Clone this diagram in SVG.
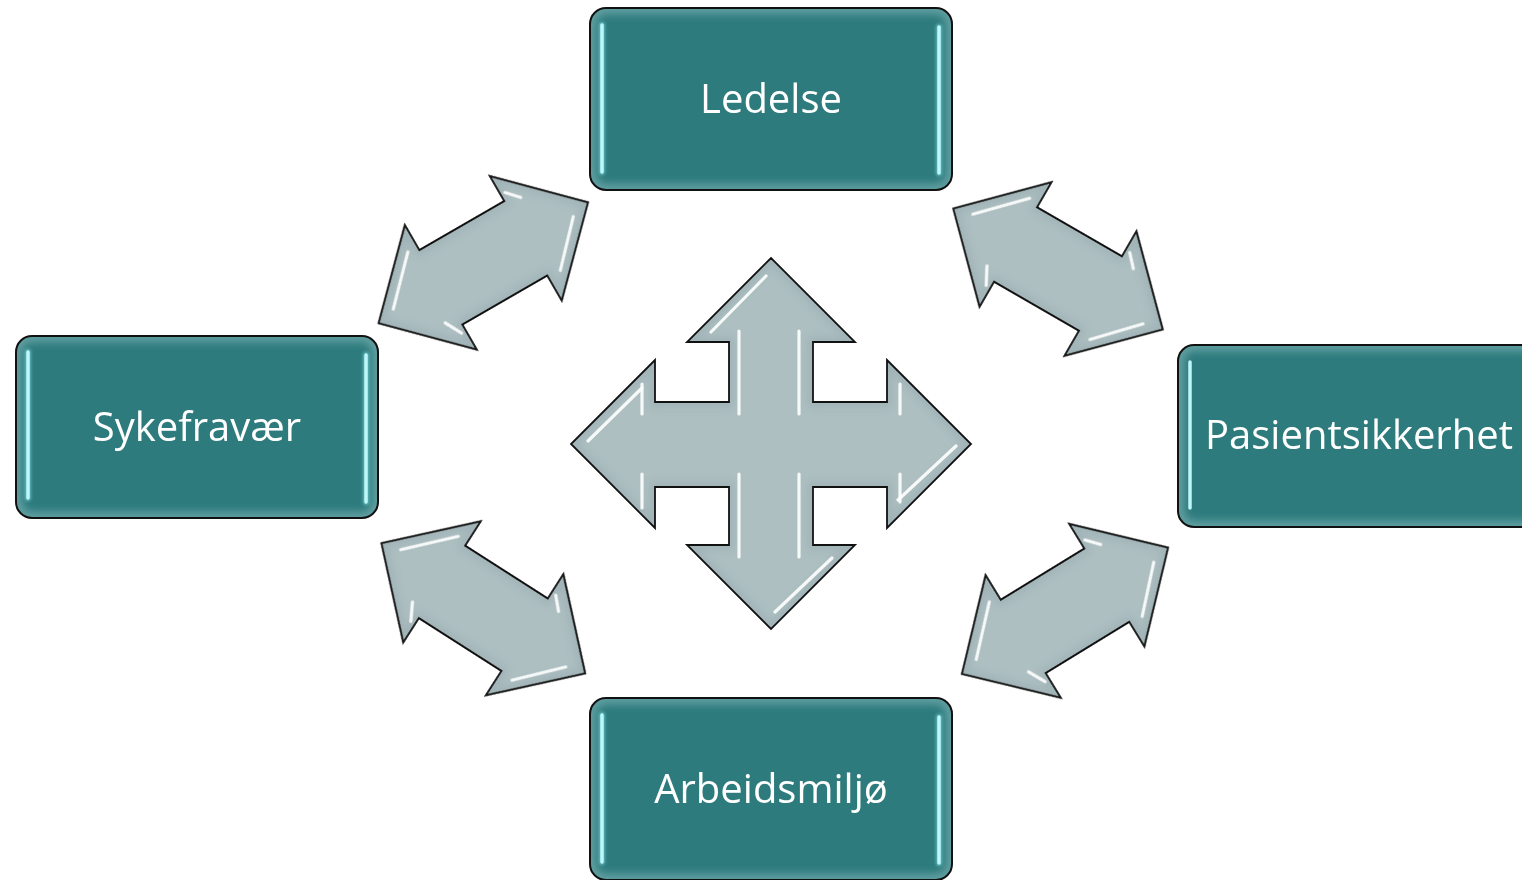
<svg xmlns="http://www.w3.org/2000/svg" xmlns:xlink="http://www.w3.org/1999/xlink" width="1522" height="880" viewBox="0 0 1522 880">
  <style>
    .box { fill: #2E7B7D; }
    .boxborder { fill: none; stroke: #111; stroke-width: 2; }
    .boxglow { fill: none; stroke: #8FC0C2; stroke-width: 12; opacity: 0.55; }
    .shine { stroke: #BDF7FA; stroke-width: 3.5; stroke-linecap: round; fill: none; }
    .shineglow { stroke: #7FE3EA; stroke-width: 6; stroke-linecap: round; fill: none; opacity: 0.6; }
    .label { font-family: "Open Sans", "Noto Sans", "DejaVu Sans", sans-serif; font-size: 40px; fill: #FFFFFF; text-anchor: middle; }
    .arrowfill { fill: #ADBFC1; }
    .arrowedge { fill: none; stroke: #111; stroke-width: 1.8; stroke-linejoin: miter; }
    .arrowshade { fill: none; stroke: #8499A0; stroke-width: 10; opacity: 0.3; }
    .streak { stroke: #FFFFFF; stroke-width: 3.2; stroke-linecap: round; fill: none; opacity: 0.9; }
  </style>
  <defs>
    <filter id="blur4" x="-20%" y="-20%" width="140%" height="140%">
      <feGaussianBlur stdDeviation="4"/>
    </filter>
    <filter id="blur1" x="-50%" y="-50%" width="200%" height="200%">
      <feGaussianBlur stdDeviation="0.7"/>
    </filter>
    <filter id="blur2" x="-50%" y="-50%" width="200%" height="200%">
      <feGaussianBlur stdDeviation="1.5"/>
    </filter>
    <clipPath id="boxclip" clipPathUnits="objectBoundingBox">
      <rect x="0" y="0" width="1" height="1" rx="0.044" ry="0.088"/>
    </clipPath>
    <path id="dblpath" d="M121,0 L49,-72 L49,-43 L-49,-43 L-49,-72 L-121,0 L-49,72 L-49,43 L49,43 L49,72 Z"/>
    <clipPath id="dblclip"><use xlink:href="#dblpath"/></clipPath>
    <g id="dbl">
      <use xlink:href="#dblpath" class="arrowfill"/>
      <use xlink:href="#dblpath" class="arrowshade" filter="url(#blur4)" clip-path="url(#dblclip)"/>
      <g filter="url(#blur1)">
        <path class="streak" d="M101,5 L63,45"/>
        <path class="streak" d="M54,-50 L65,-38"/>
        <path class="streak" d="M-101,-5 L-60,-47"/>
        <path class="streak" d="M-54,50 L-63,33"/>
      </g>
      <use xlink:href="#dblpath" class="arrowedge"/>
    </g>
    <path id="quadpath" d="M771,258 L855,342 L813,342 L813,402 L887,402 L887,360 L971,444 L887,528 L887,487 L813,487 L813,545 L855,545 L771,629 L687,545 L729,545 L729,487 L655,487 L655,528 L571,444 L655,360 L655,402 L729,402 L729,342 L687,342 Z"/>
    <clipPath id="quadclip"><use xlink:href="#quadpath"/></clipPath>
  </defs>

  <rect x="0" y="0" width="1522" height="880" fill="#FFFFFF"/>

  <!-- connectors: double arrows -->
  <g id="connectors">
    <use xlink:href="#dbl" transform="translate(483.3,262.8) rotate(-30)"/>
    <use xlink:href="#dbl" transform="translate(1058,269) rotate(30)"/>
    <use xlink:href="#dbl" transform="translate(483.3,608.3) rotate(32.6)"/>
    <use xlink:href="#dbl" transform="translate(1065,610.8) rotate(-31.5)"/>
  </g>

  <!-- center four-way arrow -->
  <g id="center-arrow">
    <use xlink:href="#quadpath" class="arrowfill"/>
    <use xlink:href="#quadpath" class="arrowshade" filter="url(#blur4)" clip-path="url(#quadclip)"/>
    <g filter="url(#blur1)">
      <path class="streak" d="M739,331 L739,414"/>
      <path class="streak" d="M799,331 L799,414"/>
      <path class="streak" d="M739,474 L739,557"/>
      <path class="streak" d="M799,474 L799,557"/>
      <path class="streak" d="M642,384 L642,414"/>
      <path class="streak" d="M642,474 L642,508"/>
      <path class="streak" d="M900,384 L900,414"/>
      <path class="streak" d="M900,474 L900,502"/>
      <path class="streak" d="M711,332 L766,276"/>
      <path class="streak" d="M588,441 L642,388"/>
      <path class="streak" d="M898,500 L956,446"/>
      <path class="streak" d="M775,612 L832,558"/>
    </g>
    <use xlink:href="#quadpath" class="arrowedge"/>
  </g>

  <!-- nodes -->
  <g id="ledelse">
    <rect class="box" x="590" y="8" width="362" height="182" rx="16"/>
    <rect class="boxglow" x="590" y="8" width="362" height="182" rx="16" filter="url(#blur4)" clip-path="url(#boxclip)"/>
    <path class="shineglow" d="M602,25 L602,172 M939,27 L939,173" filter="url(#blur2)"/>
    <path class="shine" d="M602,25 L602,172"/>
    <path class="shine" d="M939,27 L939,173"/>
    <rect class="boxborder" x="590" y="8" width="362" height="182" rx="16"/>
    <text class="label" x="771" y="113">Ledelse</text>
  </g>

  <g id="sykefravaer">
    <rect class="box" x="16" y="336" width="362" height="182" rx="16"/>
    <rect class="boxglow" x="16" y="336" width="362" height="182" rx="16" filter="url(#blur4)" clip-path="url(#boxclip)"/>
    <path class="shineglow" d="M28,352 L28,498 M366,355 L366,502" filter="url(#blur2)"/>
    <path class="shine" d="M28,352 L28,498"/>
    <path class="shine" d="M366,355 L366,502"/>
    <rect class="boxborder" x="16" y="336" width="362" height="182" rx="16"/>
    <text class="label" x="197" y="441">Sykefravær</text>
  </g>

  <g id="pasientsikkerhet">
    <rect class="box" x="1178" y="345" width="362" height="182" rx="16"/>
    <rect class="boxglow" x="1178" y="345" width="362" height="182" rx="16" filter="url(#blur4)" clip-path="url(#boxclip)"/>
    <path class="shineglow" d="M1190,362 L1190,508" filter="url(#blur2)"/>
    <path class="shine" d="M1190,362 L1190,508"/>
    <rect class="boxborder" x="1178" y="345" width="362" height="182" rx="16"/>
    <text class="label" x="1359" y="449">Pasientsikkerhet</text>
  </g>

  <g id="arbeidsmiljo">
    <rect class="box" x="590" y="698" width="362" height="182" rx="16"/>
    <rect class="boxglow" x="590" y="698" width="362" height="182" rx="16" filter="url(#blur4)" clip-path="url(#boxclip)"/>
    <path class="shineglow" d="M602,715 L602,862 M939,717 L939,863" filter="url(#blur2)"/>
    <path class="shine" d="M602,715 L602,862"/>
    <path class="shine" d="M939,717 L939,863"/>
    <rect class="boxborder" x="590" y="698" width="362" height="182" rx="16"/>
    <text class="label" x="771" y="803">Arbeidsmiljø</text>
  </g>
</svg>
